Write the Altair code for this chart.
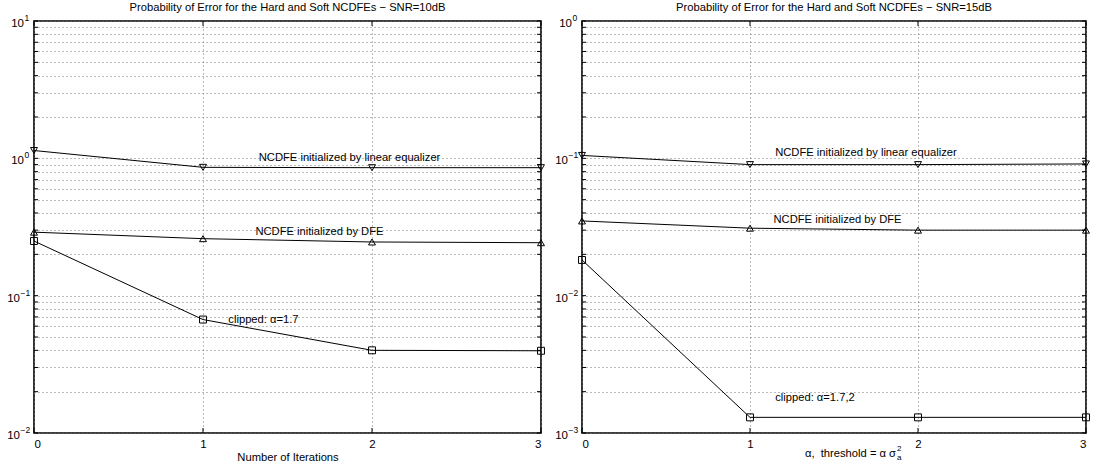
import altair as alt
import pandas as pd

# Iteration index shared by both panels
iterations = [0, 1, 2, 3]
series_names = ["linear", "dfe", "clipped"]
marker_shapes = ["triangle-down", "triangle-up", "square"]

# SNR = 10 dB error probabilities
snr10_linear = [1.14, 0.86, 0.855, 0.855]
snr10_dfe = [0.29, 0.26, 0.246, 0.243]
snr10_clipped = [0.25, 0.067, 0.040, 0.0397]

# SNR = 15 dB error probabilities
snr15_linear = [0.105, 0.090, 0.090, 0.091]
snr15_dfe = [0.035, 0.031, 0.030, 0.030]
snr15_clipped = [0.0182, 0.0013, 0.0013, 0.0013]

# In-plot annotations (text, x position, y value)
snr10_notes = ["NCDFE initialized by linear equalizer", "NCDFE initialized by DFE", "clipped: \u03b1=1.7"]
snr10_note_x = [1.33, 1.31, 1.15]
snr10_note_y = [1.0, 0.29, 0.066]

snr15_notes = ["NCDFE initialized by linear equalizer", "NCDFE initialized by DFE", "clipped: \u03b1=1.7,2"]
snr15_note_x = [1.15, 1.14, 1.15]
snr15_note_y = [0.109, 0.0355, 0.0018]

titles = [
    "Probability of Error for the Hard and Soft NCDFEs \u2212 SNR=10dB",
    "Probability of Error for the Hard and Soft NCDFEs \u2212 SNR=15dB",
]

FONT = "Liberation Sans"
H = 412
TXT = 11.2


def panel(title, series, decade_lo, decade_hi, notes, note_x, note_y, width, xtitle):
    rows = []
    for name, vals in zip(series_names, series):
        for it, v in zip(iterations, vals):
            rows.append({"x": it, "y": v, "series": name})
    df = pd.DataFrame(rows)

    grid_vals = [m * 10.0 ** e for e in range(decade_lo, decade_hi) for m in range(1, 10)]
    grid_vals.append(10.0 ** decade_hi)

    xs = alt.Scale(domain=[0, 3], nice=False, zero=False)
    ys = alt.Scale(type="log", domain=[10.0 ** decade_lo, 10.0 ** decade_hi], nice=False)

    x_axis = alt.Axis(values=iterations, format="d", grid=True, ticks=False, domain=False,
                      labelPadding=5, labelFontSize=11.5, labelFont=FONT, labelColor="black",
                      title=xtitle if xtitle else None, titleFont=FONT, titleFontSize=TXT,
                      titleFontWeight="normal", titleColor="black", titlePadding=2,
                      gridDash=[1, 3], gridColor="#777", gridWidth=1)
    y_axis = alt.Axis(values=grid_vals, labels=False, ticks=False, domain=False, title=None,
                      grid=True, gridDash=[1, 3], gridColor="#777", gridWidth=1)

    base = alt.Chart(df)
    lines = base.mark_line(color="black", strokeWidth=1).encode(
        x=alt.X("x:Q", scale=xs, axis=x_axis),
        y=alt.Y("y:Q", scale=ys, axis=y_axis),
        detail="series:N",
    )
    pts = base.mark_point(filled=False, color="black", size=48, strokeWidth=1, opacity=1).encode(
        x=alt.X("x:Q", scale=xs),
        y=alt.Y("y:Q", scale=ys),
        shape=alt.Shape("series:N", scale=alt.Scale(domain=series_names, range=marker_shapes), legend=None),
    )

    notes_df = pd.DataFrame({"x": note_x, "y": note_y, "t": notes})
    note_text = alt.Chart(notes_df).mark_text(
        align="left", baseline="middle", font=FONT, fontSize=TXT, color="black"
    ).encode(x=alt.X("x:Q", scale=xs), y=alt.Y("y:Q", scale=ys), text="t:N")

    # inward tick marks on all four sides of the frame
    gv_df = pd.DataFrame({"v": grid_vals})
    it_df = pd.DataFrame({"x": iterations})
    ytick_l = alt.Chart(gv_df).mark_rule(color="black", strokeWidth=1).encode(
        y=alt.Y("v:Q", scale=ys), x=alt.value(0), x2=alt.value(4))
    ytick_r = alt.Chart(gv_df).mark_rule(color="black", strokeWidth=1).encode(
        y=alt.Y("v:Q", scale=ys), x=alt.value(width - 4), x2=alt.value(width))
    xtick_b = alt.Chart(it_df).mark_rule(color="black", strokeWidth=1).encode(
        x=alt.X("x:Q", scale=xs), y=alt.value(H - 5), y2=alt.value(H))
    xtick_t = alt.Chart(it_df).mark_rule(color="black", strokeWidth=1).encode(
        x=alt.X("x:Q", scale=xs), y=alt.value(0), y2=alt.value(5))

    # decade labels drawn as "10" with a raised exponent
    dec = list(range(decade_lo, decade_hi + 1))
    dec_df = pd.DataFrame({
        "v": [10.0 ** d for d in dec],
        "e": [str(d).replace("-", "\u2212") for d in dec],
        "neg": [d < 0 for d in dec],
    })
    dec_base = alt.Chart(dec_df)
    y_enc = alt.Y("v:Q", scale=ys)
    ten_neg = dec_base.transform_filter("datum.neg").mark_text(
        align="right", baseline="middle", font=FONT, fontSize=11.5, color="black", dy=3
    ).encode(x=alt.value(-14), y=y_enc, text=alt.value("10"))
    exp_neg = dec_base.transform_filter("datum.neg").mark_text(
        align="left", baseline="middle", font=FONT, fontSize=8.5, color="black", dy=-3
    ).encode(x=alt.value(-13.5), y=y_enc, text="e:N")
    ten_pos = dec_base.transform_filter("!datum.neg").mark_text(
        align="right", baseline="middle", font=FONT, fontSize=11.5, color="black", dy=3
    ).encode(x=alt.value(-10), y=y_enc, text=alt.value("10"))
    exp_pos = dec_base.transform_filter("!datum.neg").mark_text(
        align="left", baseline="middle", font=FONT, fontSize=8.5, color="black", dy=-3
    ).encode(x=alt.value(-9.5), y=y_enc, text="e:N")

    layers = [lines, ytick_l, ytick_r, xtick_b, xtick_t, pts, note_text,
              ten_neg, exp_neg, ten_pos, exp_pos]
    return alt.layer(*layers).properties(
        width=width, height=H,
        title=alt.TitleParams(title, font=FONT, fontSize=TXT, fontWeight="normal",
                              color="black", offset=1, anchor="middle", frame="group"),
    )


left = panel(titles[0], [snr10_linear, snr10_dfe, snr10_clipped], -2, 1,
             snr10_notes, snr10_note_x, snr10_note_y, 507, "Number of Iterations")

right_core = panel(titles[1], [snr15_linear, snr15_dfe, snr15_clipped], -3, 0,
                   snr15_notes, snr15_note_x, snr15_note_y, 504, None)

# x-axis title of the right panel: alpha, threshold = alpha sigma_a^2
xt_df = pd.DataFrame({"t": ["\u03b1,\u00a0\u00a0threshold = \u03b1\u00a0\u03c3"]})
xt_main = alt.Chart(xt_df).mark_text(
    align="right", baseline="middle", font=FONT, fontSize=TXT, color="black"
).encode(x=alt.value(314), y=alt.value(H + 21), text="t:N")
xt_sup = alt.Chart(xt_df).mark_text(
    align="left", baseline="middle", font=FONT, fontSize=8, color="black"
).encode(x=alt.value(315), y=alt.value(H + 16), text=alt.value("2"))
xt_sub = alt.Chart(xt_df).mark_text(
    align="left", baseline="middle", font=FONT, fontSize=8, color="black"
).encode(x=alt.value(315), y=alt.value(H + 25), text=alt.value("a"))

right = alt.layer(right_core, xt_main, xt_sup, xt_sub)

chart = alt.hconcat(left, right, spacing=41, bounds="flush").properties(
    padding={"left": 6, "top": 1, "right": 0, "bottom": 0},
    background="white",
).configure_view(
    stroke="black", strokeWidth=1.6
)

chart.save("out.html", embed_options={"renderer": "svg", "actions": False})
